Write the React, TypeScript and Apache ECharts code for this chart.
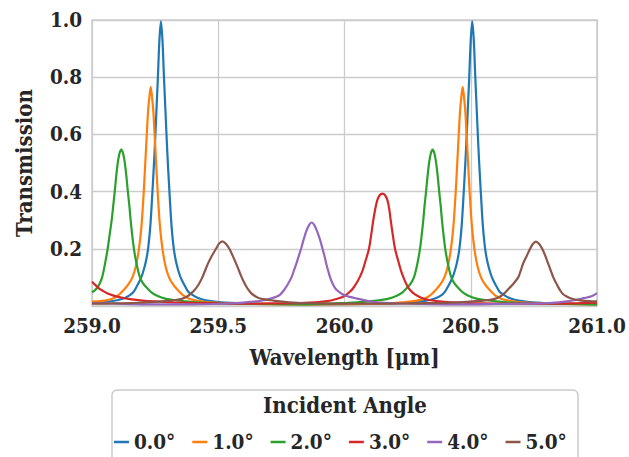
import React, { useEffect, useRef } from "react";
import * as echarts from "echarts";

const seriesNames = ["0.0°", "1.0°", "2.0°", "3.0°", "4.0°", "5.0°"];
const seriesColors = ["#1f77b4", "#ff7f0e", "#2ca02c", "#d62728", "#9467bd", "#8c564b"];
const xTicks = [259.0, 259.5, 260.0, 260.5, 261.0];
const yTicks = [0.2, 0.4, 0.6, 0.8, 1.0];

const angle0: [number, number][] = [
  [259.0, 0.01], [259.05, 0.014], [259.1, 0.02], [259.13, 0.028], [259.15, 0.038], [259.165, 0.05],
  [259.177, 0.068], [259.19, 0.09], [259.2, 0.112], [259.212, 0.15],
  [259.222, 0.2], [259.231, 0.28], [259.238, 0.38], [259.245, 0.49], [259.25, 0.58], [259.256, 0.7],
  [259.261, 0.8], [259.267, 0.93],
  [259.273, 0.995], [259.279, 0.93], [259.285, 0.8], [259.29, 0.7], [259.296, 0.58], [259.301, 0.49],
  [259.308, 0.38], [259.315, 0.28],
  [259.324, 0.2], [259.334, 0.15], [259.346, 0.112], [259.356, 0.09], [259.369, 0.068], [259.381, 0.05],
  [259.396, 0.04], [259.42, 0.028], [259.45, 0.02], [259.5, 0.014],
  [259.55, 0.011], [259.7, 0.007], [259.89, 0.006], [260.08, 0.007], [260.233, 0.011], [260.283, 0.014],
  [260.333, 0.02], [260.363, 0.028], [260.387, 0.04], [260.398, 0.05], [260.41, 0.068], [260.423, 0.09],
  [260.433, 0.112], [260.445, 0.15], [260.455, 0.2], [260.464, 0.28],
  [260.471, 0.38], [260.478, 0.49], [260.483, 0.58], [260.489, 0.7], [260.494, 0.8], [260.5, 0.93],
  [260.506, 0.995], [260.512, 0.93], [260.518, 0.8], [260.523, 0.7], [260.529, 0.58], [260.534, 0.49],
  [260.541, 0.38], [260.548, 0.28], [260.557, 0.2], [260.567, 0.15],
  [260.579, 0.112], [260.589, 0.09], [260.602, 0.068], [260.614, 0.05], [260.629, 0.04], [260.653, 0.028],
  [260.683, 0.02], [260.733, 0.014], [260.783, 0.011],
  [260.933, 0.007], [261.0, 0.006],
];

const angle1: [number, number][] = [
  [259.0, 0.015], [259.05, 0.019], [259.08, 0.025], [259.105, 0.038], [259.13, 0.06], [259.146, 0.078],
  [259.16, 0.1], [259.174, 0.14], [259.186, 0.2], [259.196, 0.28],
  [259.205, 0.4], [259.211, 0.5], [259.217, 0.6], [259.222, 0.68], [259.226, 0.72], [259.2325, 0.766],
  [259.239, 0.72], [259.243, 0.68],
  [259.248, 0.6], [259.254, 0.5], [259.26, 0.4], [259.269, 0.28], [259.279, 0.2], [259.291, 0.14],
  [259.305, 0.1], [259.319, 0.078], [259.335, 0.06], [259.36, 0.038],
  [259.385, 0.025], [259.415, 0.019], [259.45, 0.014], [259.6, 0.008], [259.85, 0.006], [260.1, 0.007],
  [260.22, 0.012], [260.285, 0.019], [260.3155, 0.025], [260.3405, 0.038], [260.3655, 0.06], [260.3815, 0.078],
  [260.3955, 0.1], [260.4095, 0.14], [260.4215, 0.2], [260.4315, 0.28],
  [260.4405, 0.4], [260.4465, 0.5], [260.4525, 0.6], [260.4575, 0.68], [260.4615, 0.72], [260.468, 0.766],
  [260.4745, 0.72], [260.4785, 0.68],
  [260.4835, 0.6], [260.4895, 0.5], [260.4955, 0.4], [260.5045, 0.28], [260.5145, 0.2], [260.5265, 0.14],
  [260.5405, 0.1], [260.5545, 0.078], [260.5705, 0.06], [260.5955, 0.038],
  [260.6205, 0.025], [260.6505, 0.019], [260.6855, 0.014], [260.8355, 0.008], [261.0, 0.006],
];

const angle2: [number, number][] = [
  [259.0, 0.048], [259.01, 0.054], [259.02, 0.063], [259.03, 0.078], [259.04, 0.1], [259.051, 0.145],
  [259.062, 0.2], [259.07, 0.25], [259.078, 0.3], [259.084, 0.35],
  [259.09, 0.4], [259.096, 0.455], [259.102, 0.5], [259.109, 0.534], [259.116, 0.547], [259.123, 0.534],
  [259.13, 0.5], [259.136, 0.455], [259.142, 0.4], [259.148, 0.35],
  [259.153, 0.3], [259.159, 0.25], [259.166, 0.2], [259.177, 0.145], [259.19, 0.1], [259.203, 0.078],
  [259.218, 0.063], [259.238, 0.046], [259.26, 0.035], [259.29, 0.026],
  [259.33, 0.02], [259.38, 0.015], [259.45, 0.011], [259.65, 0.007], [259.85, 0.006], [260.015, 0.011],
  [260.085, 0.015], [260.135, 0.02], [260.175, 0.026], [260.205, 0.035], [260.227, 0.046],
  [260.247, 0.063], [260.262, 0.078], [260.275, 0.1], [260.288, 0.145], [260.299, 0.2],
  [260.306, 0.25], [260.312, 0.3], [260.317, 0.35],
  [260.323, 0.4], [260.329, 0.455], [260.335, 0.5], [260.342, 0.534], [260.349, 0.547], [260.356, 0.534],
  [260.363, 0.5], [260.369, 0.455], [260.375, 0.4], [260.381, 0.35],
  [260.386, 0.3], [260.392, 0.25], [260.399, 0.2], [260.41, 0.145], [260.423, 0.1], [260.436, 0.078],
  [260.451, 0.063], [260.471, 0.046], [260.493, 0.035], [260.523, 0.026],
  [260.563, 0.02], [260.613, 0.015], [260.683, 0.011], [260.883, 0.007], [261.0, 0.006],
];

const angle3: [number, number][] = [
  [259.0, 0.085], [259.015, 0.072], [259.03, 0.06], [259.045, 0.052], [259.06, 0.045], [259.08, 0.038],
  [259.1, 0.033], [259.125, 0.028], [259.15, 0.024], [259.2, 0.019],
  [259.25, 0.016], [259.32, 0.013], [259.4, 0.011], [259.5, 0.009], [259.6, 0.008], [259.7, 0.009],
  [259.8, 0.01], [259.86, 0.012], [259.9, 0.014], [259.93, 0.017],
  [259.95, 0.02], [259.975, 0.026], [260.0, 0.035], [260.018, 0.047], [260.035, 0.063], [260.053, 0.088],
  [260.07, 0.12], [260.084, 0.16], [260.097, 0.2], [260.106, 0.25],
  [260.114, 0.3], [260.122, 0.34], [260.13, 0.37], [260.14, 0.388], [260.15, 0.393], [260.16, 0.388],
  [260.17, 0.37], [260.177, 0.34], [260.183, 0.3], [260.191, 0.25],
  [260.2, 0.2], [260.212, 0.16], [260.225, 0.12], [260.239, 0.088], [260.253, 0.063], [260.27, 0.047],
  [260.29, 0.035], [260.313, 0.026], [260.34, 0.02], [260.375, 0.016],
  [260.42, 0.013], [260.48, 0.011], [260.55, 0.009], [260.65, 0.008], [260.8, 0.008], [260.9, 0.009],
  [261.0, 0.012],
];

const angle4: [number, number][] = [
  [259.0, 0.01], [259.1, 0.008], [259.2, 0.006], [259.3, 0.006], [259.4, 0.006], [259.48, 0.007],
  [259.55, 0.009], [259.6, 0.012], [259.65, 0.016], [259.68, 0.02],
  [259.7, 0.024], [259.715, 0.028], [259.73, 0.032], [259.745, 0.04], [259.76, 0.055], [259.775, 0.075],
  [259.79, 0.1], [259.8, 0.125], [259.81, 0.15], [259.819, 0.175],
  [259.828, 0.2], [259.838, 0.232], [259.848, 0.26], [259.859, 0.282], [259.87, 0.292], [259.881, 0.282],
  [259.892, 0.26], [259.903, 0.232], [259.913, 0.2], [259.922, 0.17],
  [259.93, 0.14], [259.937, 0.118], [259.943, 0.1], [259.953, 0.078], [259.965, 0.06], [259.977, 0.05],
  [259.99, 0.042], [260.005, 0.036], [260.02, 0.032], [260.04, 0.028],
  [260.06, 0.024], [260.09, 0.018], [260.12, 0.014], [260.16, 0.011], [260.2, 0.009], [260.3, 0.007],
  [260.4, 0.006], [260.5, 0.006], [260.6, 0.007], [260.7, 0.008],
  [260.8, 0.01], [260.85, 0.013], [260.88, 0.016], [260.91, 0.02], [260.94, 0.026], [260.955, 0.029],
  [260.97, 0.032], [260.985, 0.037], [261.0, 0.045],
];

const angle5: [number, number][] = [
  [259.0, 0.008], [259.08, 0.009], [259.15, 0.01], [259.2, 0.012], [259.25, 0.014], [259.28, 0.016],
  [259.31, 0.019], [259.33, 0.021], [259.35, 0.024], [259.365, 0.028],
  [259.38, 0.035], [259.395, 0.046], [259.41, 0.06], [259.424, 0.078], [259.437, 0.1], [259.448, 0.124],
  [259.46, 0.15], [259.475, 0.176], [259.491, 0.2], [259.503, 0.218],
  [259.516, 0.226], [259.53, 0.218], [259.544, 0.2], [259.557, 0.176], [259.57, 0.15], [259.582, 0.124],
  [259.593, 0.1], [259.601, 0.085], [259.61, 0.07], [259.62, 0.056],
  [259.63, 0.045], [259.645, 0.035], [259.66, 0.028], [259.685, 0.023], [259.71, 0.02], [259.745, 0.016],
  [259.78, 0.013], [259.815, 0.011], [259.85, 0.01], [259.92, 0.009],
  [260.0, 0.008], [260.15, 0.008], [260.25, 0.009], [260.32, 0.01], [260.4, 0.011], [260.45, 0.013],
  [260.49, 0.015], [260.52, 0.017], [260.55, 0.019], [260.57, 0.021],
  [260.59, 0.024], [260.605, 0.028], [260.62, 0.035], [260.635, 0.046], [260.65, 0.06], [260.669, 0.078],
  [260.688, 0.1], [260.698, 0.124], [260.708, 0.15], [260.722, 0.176],
  [260.735, 0.2], [260.746, 0.217], [260.758, 0.225], [260.771, 0.217], [260.783, 0.2], [260.795, 0.176],
  [260.806, 0.15], [260.817, 0.124], [260.827, 0.1], [260.837, 0.082],
  [260.847, 0.065], [260.856, 0.052], [260.865, 0.042], [260.88, 0.033], [260.895, 0.027], [260.917, 0.022],
  [260.94, 0.019], [260.97, 0.017], [261.0, 0.016],
];

const seriesData = [angle0, angle1, angle2, angle3, angle4, angle5];

const FONT = "DejaVu Serif Condensed";
const FS = 20.5;
const FS_NAME = 22;
const TEXT = "#262626";
const GRID = "#cccccc";

export default function App() {
  const ref = useRef<HTMLDivElement>(null);
  useEffect(() => {
    if (!ref.current) return;
    const chart = echarts.init(ref.current, null, { renderer: "svg" });
    chart.setOption({
      animation: false,
      backgroundColor: "#ffffff",
      grid: {
        left: 92,
        right: 32,
        top: 20,
        bottom: 151,
        show: true,
        borderColor: GRID,
        borderWidth: 1.5,
        containLabel: false,
      },
      xAxis: {
        type: "value",
        min: xTicks[0],
        max: xTicks[xTicks.length - 1],
        interval: 0.5,
        name: "Wavelength [μm]",
        nameLocation: "middle",
        nameGap: 40,
        nameTextStyle: { fontFamily: FONT, fontWeight: "bold", fontSize: FS_NAME, color: TEXT },
        axisLine: { show: false },
        axisTick: { show: false },
        axisLabel: {
          margin: 9,
          fontFamily: FONT,
          fontWeight: "bold",
          fontSize: FS,
          color: TEXT,
          formatter: (v: number) => v.toFixed(1),
        },
        splitLine: { show: true, lineStyle: { color: GRID, width: 1.3 } },
      },
      yAxis: {
        type: "value",
        min: 0,
        max: yTicks[yTicks.length - 1],
        interval: 0.2,
        name: "Transmission",
        nameLocation: "middle",
        nameGap: 57,
        nameTextStyle: { fontFamily: FONT, fontWeight: "bold", fontSize: FS_NAME, color: TEXT },
        axisLine: { show: false },
        axisTick: { show: false },
        axisLabel: {
          margin: 10,
          fontFamily: FONT,
          fontWeight: "bold",
          fontSize: FS,
          color: TEXT,
          formatter: (v: number) => (yTicks.some((t) => Math.abs(t - v) < 1e-9) ? v.toFixed(1) : ""),
        },
        splitLine: { show: true, lineStyle: { color: GRID, width: 1.3 } },
      },
      legend: {
        data: seriesNames,
        left: 114,
        top: 431,
        padding: 0,
        icon: "rect",
        itemWidth: 15,
        itemHeight: 2.5,
        itemGap: 17,
        textStyle: { fontFamily: FONT, fontWeight: "bold", fontSize: FS, lineHeight: 22, color: TEXT },
      },
      graphic: [
        {
          type: "rect",
          shape: { x: 112, y: 390, width: 466, height: 90, r: 5 },
          style: { fill: "none", stroke: GRID, lineWidth: 1.5 },
          silent: true,
        },
        {
          type: "text",
          x: 345,
          y: 405,
          style: {
            text: "Incident Angle",
            fontFamily: FONT,
            fontWeight: "bold",
            fontSize: FS_NAME,
            fill: TEXT,
            textAlign: "center",
            textVerticalAlign: "middle",
          },
        },
      ],
      series: seriesNames.map((name, i) => ({
        name,
        type: "line",
        data: seriesData[i],
        smooth: 0.3,
        showSymbol: false,
        symbol: "none",
        lineStyle: { color: seriesColors[i], width: 2.2 },
        itemStyle: { color: seriesColors[i] },
        clip: true,
      })),
    });
    return () => chart.dispose();
  }, []);
  return (
    <div
      ref={ref}
      style={{ position: "absolute", left: 0, top: 0, width: 629, height: 457 }}
    />
  );
}
